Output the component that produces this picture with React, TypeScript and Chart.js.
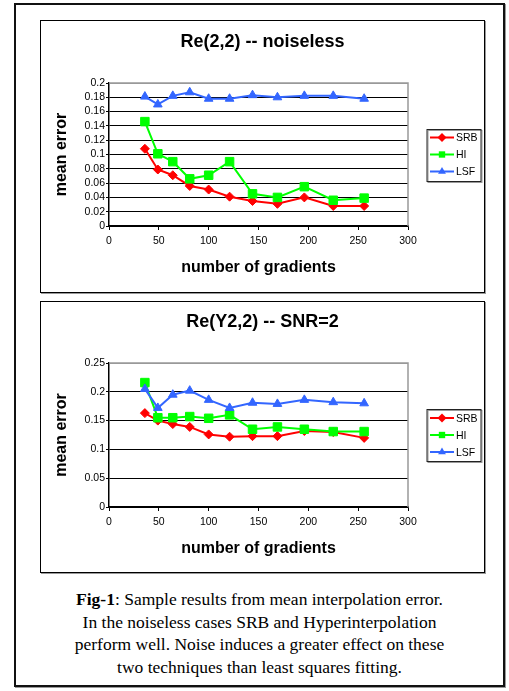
import React, { useEffect, useRef } from 'react';
import { Chart, registerables } from 'chart.js';

Chart.register(...registerables);

// ---- data ----
const gradients = [36, 49, 64, 81, 100, 121, 144, 169, 196, 225, 256];
const seriesNames = ['SRB', 'HI', 'LSF'];
const seriesColors = ['#FF0000', '#00FF00', '#3366FF'];
const seriesMarkers = ['rectRot', 'rect', 'triangle'];

const srbNoiseless = [0.108, 0.079, 0.071, 0.056, 0.051, 0.041, 0.035, 0.031, 0.040, 0.028, 0.028];
const hiNoiseless = [0.146, 0.101, 0.090, 0.066, 0.071, 0.090, 0.045, 0.040, 0.055, 0.036, 0.039];
const lsfNoiseless = [0.181, 0.170, 0.182, 0.187, 0.178, 0.178, 0.183, 0.180, 0.182, 0.182, 0.178];

const srbSnr2 = [0.163, 0.150, 0.144, 0.139, 0.126, 0.122, 0.123, 0.123, 0.132, 0.130, 0.120];
const hiSnr2 = [0.216, 0.155, 0.155, 0.157, 0.154, 0.160, 0.135, 0.139, 0.135, 0.131, 0.131];
const lsfSnr2 = [0.205, 0.172, 0.195, 0.202, 0.186, 0.172, 0.181, 0.179, 0.186, 0.182, 0.180];

const chartTitles = ['Re(2,2) -- noiseless', 'Re(Y2,2) -- SNR=2'];
const xAxisTitle = 'number of gradients';
const yAxisTitle = 'mean error';

const FONT = '"Liberation Sans", Arial, Helvetica, sans-serif';

function drawMarker(ctx: CanvasRenderingContext2D, style: string, x: number, y: number, r: number, color: string) {
  ctx.save();
  ctx.fillStyle = color;
  ctx.beginPath();
  if (style === 'rectRot') {
    ctx.moveTo(x, y - r);
    ctx.lineTo(x + r, y);
    ctx.lineTo(x, y + r);
    ctx.lineTo(x - r, y);
  } else if (style === 'rect') {
    const s = r * Math.SQRT1_2;
    ctx.rect(x - s, y - s, 2 * s, 2 * s);
  } else {
    ctx.moveTo(x, y - r);
    ctx.lineTo(x + r * 0.87, y + r * 0.5);
    ctx.lineTo(x - r * 0.87, y + r * 0.5);
  }
  ctx.closePath();
  ctx.fill();
  ctx.restore();
}

const decorPlugin = {
  id: 'decor',
  beforeDatasetsDraw(chart: any) {
    const { ctx, chartArea } = chart;
    ctx.save();
    ctx.strokeStyle = '#999';
    ctx.lineWidth = 1.5;
    ctx.beginPath();
    ctx.moveTo(chartArea.left, chartArea.top);
    ctx.lineTo(chartArea.right, chartArea.top);
    ctx.lineTo(chartArea.right, chartArea.bottom);
    ctx.stroke();
    ctx.restore();
  },
  afterDraw(chart: any) {
    const opts = chart.options.plugins.decor;
    const { ctx, chartArea, width } = chart;
    ctx.save();
    ctx.fillStyle = '#000';
    // title
    ctx.font = `bold 18px ${FONT}`;
    ctx.textAlign = 'center';
    ctx.textBaseline = 'middle';
    ctx.fillText(opts.title, width / 2, opts.titleY);
    // x axis title
    ctx.font = `bold 16px ${FONT}`;
    const cx = (chartArea.left + chartArea.right) / 2;
    const cy = (chartArea.top + chartArea.bottom) / 2;
    ctx.fillText(xAxisTitle, cx, chartArea.bottom + 42);
    // y axis title
    ctx.save();
    ctx.translate(21, cy);
    ctx.rotate(-Math.PI / 2);
    ctx.fillText(yAxisTitle, 0, 0);
    ctx.restore();
    // legend
    const bx = chartArea.right + 19;
    const bw = 54;
    const bh = 52;
    const by = Math.round(cy - bh / 2) + 0.5;
    ctx.fillStyle = '#fff';
    ctx.fillRect(bx, by, bw, bh);
    ctx.strokeStyle = '#999';
    ctx.lineWidth = 1;
    ctx.strokeRect(bx + 1, by + 1, bw, bh);
    ctx.strokeStyle = '#222';
    ctx.strokeRect(bx, by, bw, bh);
    ctx.font = `10.5px ${FONT}`;
    ctx.textAlign = 'left';
    seriesNames.forEach((name, i) => {
      const iy = cy - 17 + i * 17;
      ctx.strokeStyle = seriesColors[i];
      ctx.lineWidth = 2;
      ctx.beginPath();
      ctx.moveTo(bx + 3, iy);
      ctx.lineTo(bx + 27, iy);
      ctx.stroke();
      drawMarker(ctx, seriesMarkers[i], bx + 15, iy, 4.5, seriesColors[i]);
      ctx.fillStyle = '#000';
      ctx.fillText(name, bx + 29, iy + 1);
    });
    ctx.restore();
  },
};

type PanelProps = {
  title: string;
  titleY: number;
  series: number[][];
  yMax: number;
  yStep: number;
  top: number;
  height: number;
  plotTop: number;
};

const CANVAS_W = 443;

function ChartPanel({ title, titleY, series, yMax, yStep, top, height, plotTop }: PanelProps) {
  const ref = useRef<HTMLCanvasElement | null>(null);
  useEffect(() => {
    if (!ref.current) return;
    const canvasH = height - 2;
    const plotBottom = 205;
    const datasets = series.map((arr, i) => ({
      label: seriesNames[i],
      data: gradients.map((x, j) => ({ x, y: arr[j] })),
      borderColor: seriesColors[i],
      backgroundColor: seriesColors[i],
      pointStyle: seriesMarkers[i] as any,
      pointRadius: i === 0 ? 4.5 : i === 1 ? 6 : 5,
      pointBorderWidth: 1,
      borderWidth: 2,
      order: 3 - i,
      tension: 0,
    }));
    const chart = new Chart(ref.current, {
      type: 'line',
      data: { datasets },
      options: {
        animation: false,
        responsive: false,
        maintainAspectRatio: false,
        layout: { padding: { top: plotTop, right: CANVAS_W - 367, left: 0, bottom: 0 } },
        plugins: {
          legend: { display: false },
          title: { display: false },
          tooltip: { enabled: false },
          decor: { title, titleY },
        } as any,
        scales: {
          x: {
            type: 'linear',
            min: 0,
            max: 300,
            afterFit: (s: any) => {
              s.height = canvasH - plotBottom;
            },
            ticks: { stepSize: 50, color: '#000', padding: 5, autoSkip: false, font: { family: FONT, size: 10.5 } },
            grid: { drawOnChartArea: false, drawTicks: true, tickLength: 4, color: '#000' },
            border: { color: '#000', width: 1.5 },
          },
          y: {
            min: 0,
            max: yMax,
            afterFit: (s: any) => {
              s.width = 68;
            },
            ticks: {
              stepSize: yStep,
              maxTicksLimit: 30,
              autoSkip: false,
              color: '#000',
              padding: 1,
              font: { family: FONT, size: 10.5 },
              callback: (v: any) => String(parseFloat(Number(v).toFixed(3))),
            },
            grid: {
              color: (c: any) => (c.tick && c.tick.value >= yMax - 1e-9 ? '#999' : '#000'),
              tickColor: '#000',
              lineWidth: 1,
              tickLength: 3,
            },
            border: { color: '#000', width: 1.5 },
          },
        },
      } as any,
      plugins: [decorPlugin],
    });
    return () => chart.destroy();
  }, [title, titleY, series, yMax, yStep, height, plotTop]);

  return (
    <div
      style={{
        position: 'absolute',
        left: 40,
        top,
        width: 445,
        height,
        boxSizing: 'border-box',
        border: '1px solid #000',
        boxShadow: '1px 1px 0 #999',
        background: '#fff',
      }}
    >
      <canvas ref={ref} width={CANVAS_W} height={height - 2} style={{ display: 'block', width: CANVAS_W, height: height - 2 }} />
    </div>
  );
}

export default function App() {
  return (
    <div style={{ position: 'absolute', left: 0, top: 0, width: 509, height: 691, background: '#fff' }}>
      <div
        style={{
          position: 'absolute',
          left: 14,
          top: 3,
          width: 491,
          height: 684,
          boxSizing: 'border-box',
          border: '2px solid #111',
          boxShadow: '1px 1px 0 #999',
        }}
      />
      <ChartPanel
        title={chartTitles[0]}
        titleY={21}
        series={[srbNoiseless, hiNoiseless, lsfNoiseless]}
        yMax={0.2}
        yStep={0.02}
        top={20}
        height={273}
        plotTop={62}
      />
      <ChartPanel
        title={chartTitles[1]}
        titleY={20}
        series={[srbSnr2, hiSnr2, lsfSnr2]}
        yMax={0.25}
        yStep={0.05}
        top={301}
        height={272}
        plotTop={61}
      />
      <div
        style={{
          position: 'absolute',
          left: 14,
          top: 588,
          width: 491,
          textAlign: 'center',
          fontFamily: '"Liberation Serif", "Times New Roman", serif',
          fontSize: 17.5,
          lineHeight: '22.5px',
          color: '#000',
          whiteSpace: 'nowrap',
        }}
      >
        <b>Fig-1</b>: Sample results from mean interpolation error.
        <br />
        In the noiseless cases SRB and Hyperinterpolation
        <br />
        perform well. Noise induces a greater effect on these
        <br />
        two techniques than least squares fitting.
      </div>
    </div>
  );
}
